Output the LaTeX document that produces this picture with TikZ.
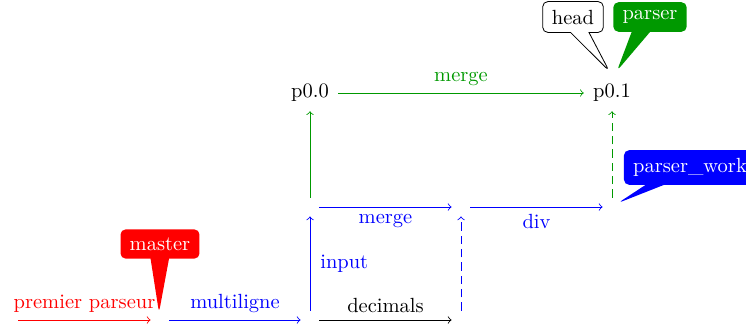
\documentclass[tikz,border=0pt]{standalone}
\usetikzlibrary{shapes.callouts,calc}
\definecolor{gitgreen}{rgb}{0,0.6,0}

\begin{document}
\begin{tikzpicture}[x=0.4878pt,y=-0.4878pt,
  commit/.style={inner sep=4.4pt},
  pending/.style={dash pattern=on 4pt off 2.5pt},
  tag/.style={rectangle callout, rounded corners=2.5pt, inner xsep=4.5pt,
    inner ysep=4pt, callout pointer width=9pt, text=white}]
\useasboundingbox (0,0) rectangle (746,325);

% commits
\node[commit] (s0) at (9,320) {};
\node[commit] (m)  at (160,320) {};
\node[commit] (n1) at (310,320) {};
\node[commit] (n2) at (461,320) {};
\node[commit] (w1) at (310,207) {};
\node[commit] (w2) at (461,207) {};
\node[commit] (w3) at (612,207) {};
\node[commit] (p00) at (310,93) {p0.0};
\node[commit] (p01) at (612,93) {p0.1};

% history
\draw[->,red]  (s0) -- node[above]{premier parseur} (m);
\draw[->,blue] (m)  -- node[above]{multiligne} (n1);
\draw[->]      (n1) -- node[above]{decimals} (n2);
\draw[->,blue] (n1) -- node[right,xshift=1.5pt]{input} (w1);
\draw[->,draw=blue,pending] (n2) -- (w2);
\draw[->,blue] (w1) -- node[below]{merge} (w2);
\draw[->,blue] (w2) -- node[below]{div} (w3);
\draw[->,gitgreen] (w1) -- (p00);
\draw[->,draw=gitgreen,pending] (w3) -- (p01);
\draw[->,gitgreen] (p00) -- node[above]{merge} (p01);

% branch labels
\node[tag, fill=red, callout absolute pointer={($(m.north)+(-1,2)$)}] (tm) at (160,244) {master};
\node[tag, fill=white, draw=black, text=black,
  callout absolute pointer={($(p01.north)+(-3,-4)$)}] (th) at (573,17) {head};
\node[tag, fill=gitgreen, callout absolute pointer={($(p01.north)+(5,-4)$)}] (tp) at (650,17) {parser};
\node[tag, fill=blue, callout absolute pointer={($(w3)+(6,-4)$)}] (tw) at (690,167.5) {parser\_work};
\end{tikzpicture}
\end{document}
